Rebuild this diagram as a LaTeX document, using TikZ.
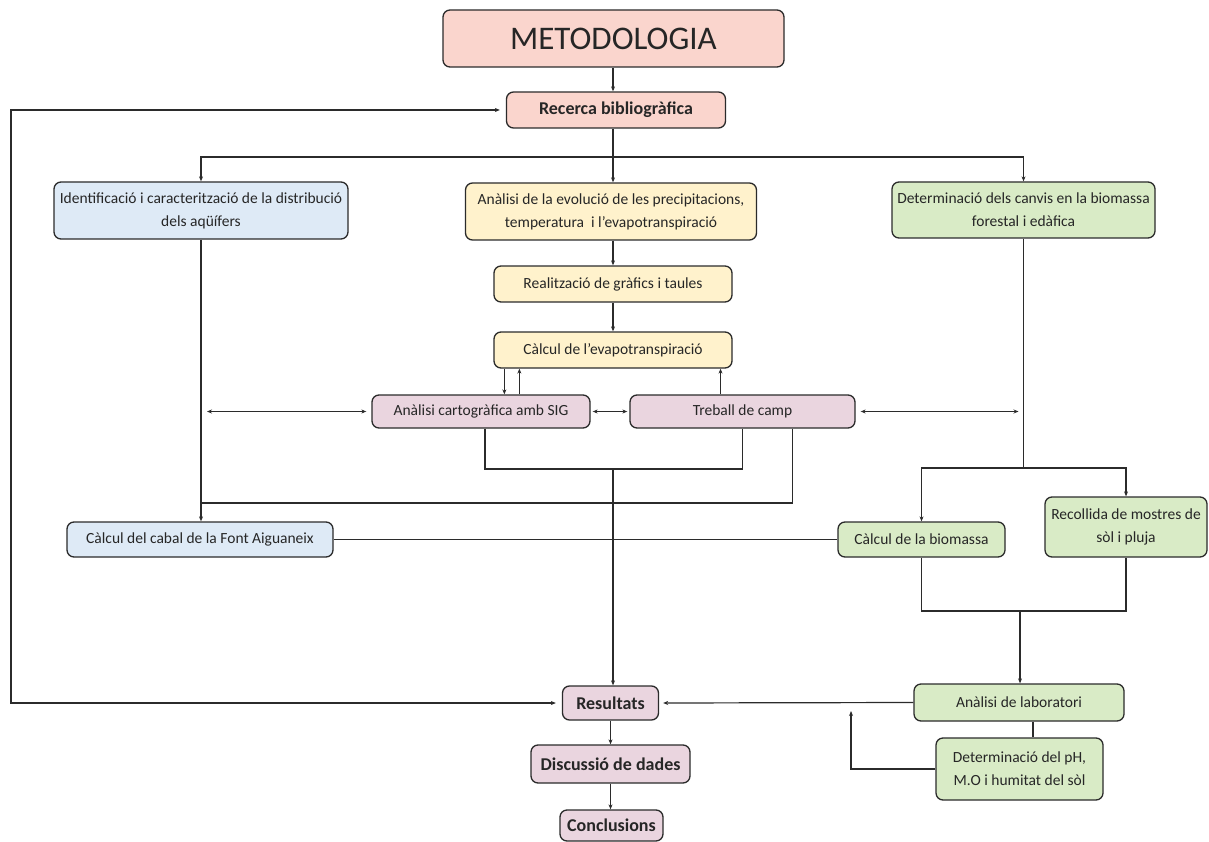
\documentclass[tikz,border=0pt]{standalone}
\usepackage{fontspec}
\setmainfont{Carlito}
\usetikzlibrary{arrows.meta,positioning}
\definecolor{rosebox}{HTML}{FAD5CD}
\definecolor{bluebox}{HTML}{DEEAF6}
\definecolor{yellowbox}{HTML}{FFF2CC}
\definecolor{greenbox}{HTML}{D9EBC6}
\definecolor{lilacbox}{HTML}{EAD5DF}
\definecolor{linegray}{HTML}{2B2B2B}

\begin{document}
\begin{tikzpicture}[x=1pt, y=-1pt, >={Stealth[length=5pt,width=4pt]},
    box/.style={draw=linegray, line width=1.3pt, rounded corners=7pt,
      align=center, inner sep=2pt, text=black!85,
      font=\fontsize{15.5}{23}\selectfont},
    boldbox/.style={box, font=\fontsize{18}{20}\selectfont\bfseries},
    conn/.style={line width=1.2pt, draw=linegray},
    arr/.style={conn, ->},
    arrboth/.style={conn, <->}]
  \useasboundingbox (0,0) rectangle (1209,842);

  % top
  \node[box, fill=rosebox, minimum width=341pt, minimum height=57pt,
    font=\fontsize{33}{36}\selectfont] (metod) at (613.5,38.5) {METODOLOGIA};
  \node[boldbox, fill=rosebox, minimum width=219pt, minimum height=36pt] (rec) at (616,110) {Recerca bibliogràfica};

  % three branches
  \node[box, fill=bluebox, minimum width=294pt, minimum height=57pt] (ident) at (201,210.5)
    {Identificació i caracterització de la distribució\\dels aqüífers};
  \node[box, fill=yellowbox, minimum width=291pt, minimum height=57pt] (evol) at (611,211.5)
    {Anàlisi de la evolució de les precipitacions,\\temperatura\ \ i l’evapotranspiració};
  \node[box, fill=greenbox, minimum width=263pt, minimum height=56pt] (detc) at (1023.5,210)
    {Determinació dels canvis en la biomassa\\forestal i edàfica};

  % central column
  \node[box, fill=yellowbox, minimum width=238pt, minimum height=36pt] (graf) at (613,284) {Realització de gràfics i taules};
  \node[box, fill=yellowbox, minimum width=238pt, minimum height=36pt] (evap) at (613,350) {Càlcul de l’evapotranspiració};
  \node[box, fill=lilacbox, minimum width=218pt, minimum height=33pt] (cart) at (481,411.5) {Anàlisi cartogràfica amb SIG};
  \node[box, fill=lilacbox, minimum width=225pt, minimum height=33pt] (camp) at (742.5,411.5) {Treball de camp};

  % lower row
  \node[box, fill=bluebox, minimum width=266pt, minimum height=35pt] (cabal) at (200,539.5) {Càlcul del cabal de la Font Aiguaneix};
  \node[box, fill=greenbox, minimum width=167pt, minimum height=35pt] (biom) at (921.5,539.5) {Càlcul de la biomassa};
  \node[box, fill=greenbox, minimum width=162pt, minimum height=60pt] (recoll) at (1126,527) {Recollida de mostres de\\sòl i pluja};
  \node[box, fill=greenbox, minimum width=210pt, minimum height=37pt] (lab) at (1019,702.5) {Anàlisi de laboratori};
  \node[box, fill=greenbox, minimum width=167pt, minimum height=62pt] (ph) at (1019.5,769) {Determinació del pH,\\M.O i humitat del sòl};

  % results
  \node[boldbox, fill=lilacbox, minimum width=96pt, minimum height=34pt] (res) at (610.5,703) {Resultats};
  \node[boldbox, fill=lilacbox, minimum width=159pt, minimum height=38pt] (disc) at (610.5,764) {Discussió de dades};
  \node[boldbox, fill=lilacbox, minimum width=103pt, minimum height=31pt] (concl) at (611.5,825.5) {Conclusions};

  % junctions
  \coordinate (br) at (613,157);
  \coordinate (lj) at (201,503);
  \coordinate (mj) at (613,469);
  \coordinate (rj) at (1023.5,468);
  \coordinate (bj) at (1020,611);
  \coordinate (fb) at (851,711);
  \coordinate (fl) at (11,0);

  \draw[arr] (metod.south -| br) -- (br |- rec.north);
  \draw[conn] (rec.south -| br) -- (br);
  \draw[arr] (br) -| (ident.north);
  \draw[arr] (br) -| (detc.north);
  \draw[arr] (br) -- (br |- evol.north);
  \draw[arr] (evol.south -| graf.north) -- (graf.north);
  \draw[arr] (graf.south) -- (evap.north);

  \draw[arr] ([xshift=11pt]evap.south west) -- ([xshift=11pt]evap.south west |- cart.north);
  \draw[arr] ([xshift=26pt]evap.south west |- cart.north) -- ([xshift=26pt]evap.south west);
  \draw[arr] ([xshift=-22pt]camp.north) -- ([xshift=-22pt]camp.north |- evap.south);
  \draw[arrboth, shorten <=2pt, shorten >=2pt] (cart.east) -- (camp.west);
  \draw[arrboth, shorten >=5pt] ([xshift=6pt]ident.south |- cart.west) -- (cart.west);
  \draw[arrboth, shorten <=5pt] (camp.east) -- ([xshift=-5pt]detc.south |- camp.east);

  \draw[arr] (ident.south) -- (ident.south |- cabal.north);
  \draw[conn] ([xshift=50pt]camp.south) |- (lj);
  \draw[conn] ([xshift=4pt]cart.south) |- (mj) -| (camp.south);
  \draw[arr] (mj) -- (mj |- res.north);
  \draw[conn] (cabal.east) -- (biom.west);

  \draw[conn] (detc.south) -- (rj);
  \draw[arr] (rj) -| (biom.north);
  \draw[arr] (rj) -| (recoll.north);
  \draw[conn] (biom.south) |- (bj) -| (recoll.south);
  \draw[arr] (bj) -- (bj |- lab.north);
  \draw[arr, shorten >=4pt] (lab.west) -- (res.east);
  \draw[conn] ([xshift=14pt]lab.south) -- ([xshift=14pt]lab.south |- ph.north);
  \draw[arr] (ph.west) -| (fb);

  \draw[arr] (res.south) -- (res.south |- disc.north);
  \draw[arr] (res.south |- disc.south) -- (res.south |- concl.north);
  \draw[arrboth, shorten <=6pt, shorten >=6pt] (res.west) -| (fl |- rec.west) -- (rec.west);
\end{tikzpicture}
\end{document}
